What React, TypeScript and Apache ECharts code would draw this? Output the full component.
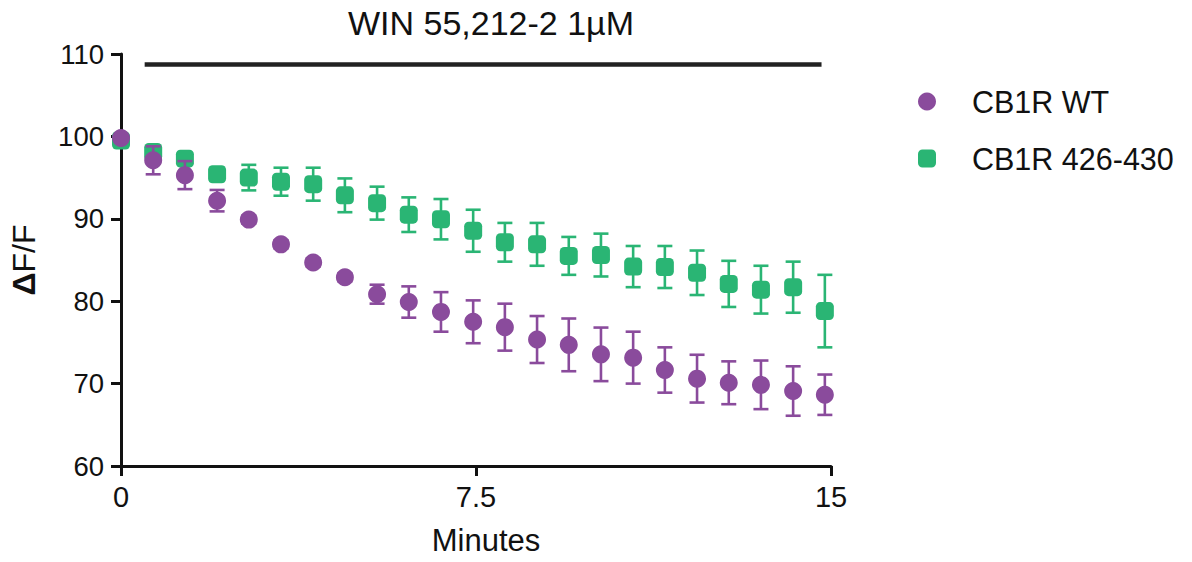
import React, { useEffect, useRef } from "react";
import * as echarts from "echarts";

const minutes = [0, 0.68, 1.35, 2.03, 2.7, 3.38, 4.06, 4.73, 5.41, 6.08, 6.76, 7.44, 8.11, 8.79, 9.46, 10.14, 10.82, 11.49, 12.17, 12.84, 13.52, 14.2, 14.87];
const wtMean = [99.8, 97.1, 95.3, 92.2, 89.9, 86.9, 84.7, 82.9, 80.85, 79.9, 78.7, 77.5, 76.85, 75.35, 74.7, 73.55, 73.15, 71.65, 70.6, 70.1, 69.85, 69.1, 68.65];
const wtSem = [0.3, 1.7, 1.7, 1.3, 0.5, 0.5, 0.5, 0.5, 1.15, 1.9, 2.4, 2.6, 2.85, 2.85, 3.2, 3.25, 3.15, 2.75, 2.9, 2.6, 2.95, 3.0, 2.45];
const mutMean = [99.5, 98.1, 97.3, 95.4, 95.0, 94.5, 94.2, 92.85, 91.9, 90.5, 89.95, 88.55, 87.15, 86.9, 85.5, 85.6, 84.2, 84.15, 83.45, 82.1, 81.4, 81.7, 78.8];
const mutSem = [0.3, 0.6, 0.6, 0.8, 1.55, 1.7, 2.0, 2.05, 2.0, 2.1, 2.45, 2.55, 2.35, 2.6, 2.3, 2.6, 2.5, 2.55, 2.7, 2.8, 2.9, 3.1, 4.4];
const drugBar = [[0.5, 108.8], [14.8, 108.8]];
const yTicks = { min: 60, max: 110, interval: 10 };
const xTicks = { min: 0, max: 15, interval: 7.5 };

const PURPLE = "#8a4b9c";
const GREEN = "#2ab574";
const FONT = "'Liberation Sans', Arial, sans-serif";

function errSeries(name: string, mean: number[], sem: number[], color: string, z: number) {
  return {
    type: "custom",
    name,
    z,
    silent: true,
    itemStyle: { color },
    encode: { x: 0, y: [1, 2] },
    data: minutes.map((t, i) => [t, mean[i] - sem[i], mean[i] + sem[i]]),
    renderItem: (params: any, api: any) => {
      const x = api.value(0);
      const lo = api.coord([x, api.value(1)]);
      const hi = api.coord([x, api.value(2)]);
      const h = 7.5;
      const style = { stroke: color, lineWidth: 2.6 };
      return {
        type: "group",
        children: [
          { type: "line", shape: { x1: lo[0], y1: lo[1], x2: hi[0], y2: hi[1] }, style },
          { type: "line", shape: { x1: lo[0] - h, y1: lo[1], x2: lo[0] + h, y2: lo[1] }, style },
          { type: "line", shape: { x1: hi[0] - h, y1: hi[1], x2: hi[0] + h, y2: hi[1] }, style },
        ],
      };
    },
  };
}

export default function App() {
  const ref = useRef<HTMLDivElement>(null);
  useEffect(() => {
    document.body.style.margin = "0";
    const chart = echarts.init(ref.current!, null, { renderer: "svg" });
    chart.setOption({
      animation: false,
      backgroundColor: "#ffffff",
      title: {
        text: "WIN 55,212-2 1µM",
        left: 486,
        top: 1,
        textAlign: "center",
        textStyle: { fontFamily: FONT, fontSize: 34, fontWeight: "normal", color: "#111" },
      },
      legend: {
        orient: "vertical",
        left: 913,
        top: 81,
        itemGap: 26,
        itemWidth: 18,
        itemHeight: 18,
        data: [
          { name: "CB1R WT", icon: "circle", itemStyle: { color: PURPLE } },
          { name: "CB1R 426-430", icon: "roundRect", itemStyle: { color: GREEN } },
        ],
        textStyle: { fontFamily: FONT, fontSize: 30.5, color: "#111", padding: [0, 0, 0, 31] },
      },
      grid: { left: 121, right: 361, top: 54, bottom: 96, containLabel: false },
      xAxis: {
        type: "value",
        min: xTicks.min,
        max: xTicks.max,
        interval: xTicks.interval,
        name: "Minutes",
        nameLocation: "middle",
        nameGap: 59,
        nameTextStyle: { fontFamily: FONT, fontSize: 31, color: "#111", padding: [0, 0, 0, 20] },
        axisLine: { lineStyle: { color: "#111", width: 3 } },
        axisTick: { length: 10, lineStyle: { color: "#111", width: 3 } },
        axisLabel: { fontFamily: FONT, fontSize: 29, color: "#111", margin: 16 },
        splitLine: { show: false },
      },
      yAxis: {
        type: "value",
        min: yTicks.min,
        max: yTicks.max,
        interval: yTicks.interval,
        name: "{d|Δ}F/F",
        nameLocation: "middle",
        nameRotate: 90,
        nameGap: 81,
        nameTextStyle: {
          fontFamily: FONT,
          fontSize: 32,
          color: "#111",
          rich: { d: { fontFamily: FONT, fontSize: 32, fontWeight: "bold", color: "#111" } },
        },
        axisLine: { show: true, lineStyle: { color: "#111", width: 3 } },
        axisTick: { show: true, length: 10, lineStyle: { color: "#111", width: 3 } },
        axisLabel: { fontFamily: FONT, fontSize: 27.5, color: "#111", margin: 17 },
        splitLine: { show: false },
      },
      series: [
        errSeries("CB1R 426-430", mutMean, mutSem, GREEN, 2),
        {
          type: "scatter",
          name: "CB1R 426-430",
          z: 3,
          symbol: "roundRect",
          symbolSize: 18,
          itemStyle: { color: GREEN, opacity: 1 },
          data: minutes.map((t, i) => [t, mutMean[i]]),
          markLine: {
            silent: true,
            symbol: "none",
            label: { show: false },
            lineStyle: { color: "#222", width: 4.5, type: "solid" },
            data: [[{ coord: drugBar[0] }, { coord: drugBar[1] }]],
          },
        },
        errSeries("CB1R WT", wtMean, wtSem, PURPLE, 4),
        {
          type: "scatter",
          name: "CB1R WT",
          z: 5,
          symbol: "circle",
          symbolSize: 18,
          itemStyle: { color: PURPLE, opacity: 1 },
          data: minutes.map((t, i) => [t, wtMean[i]]),
        },
      ],
    });
    return () => chart.dispose();
  }, []);
  return <div ref={ref} style={{ width: 1192, height: 562 }} />;
}
